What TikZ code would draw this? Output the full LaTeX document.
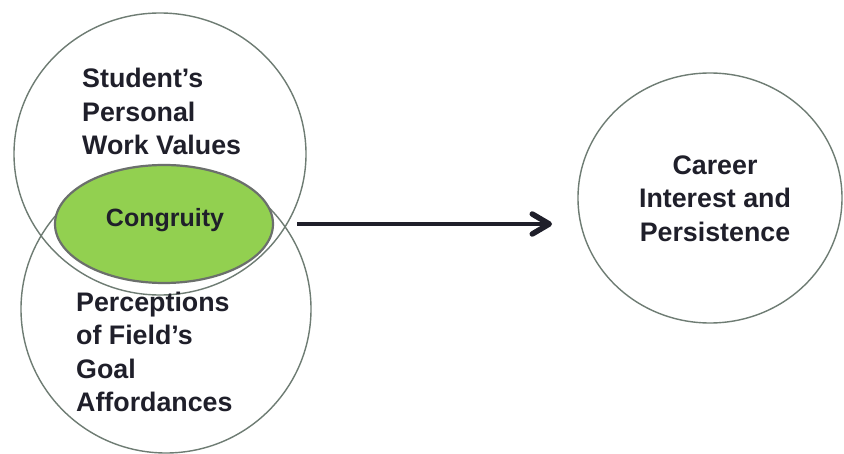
\documentclass[tikz,border=0pt]{standalone}
\usepackage{fontspec}
\setmainfont{Liberation Sans}
\usetikzlibrary{shapes.geometric,arrows.meta}
\definecolor{ringc}{HTML}{6E7C73}
\definecolor{lensfill}{HTML}{92D050}
\definecolor{lensline}{HTML}{6B6F6C}
\definecolor{inkc}{HTML}{1F1F2A}
\tikzset{
  ring/.style={ellipse, draw=ringc, line width=1.4pt, inner sep=0pt, outer sep=0pt},
  lens/.style={ellipse, draw=lensline, fill=lensfill, line width=2.2pt, inner sep=0pt, outer sep=0pt},
  label/.style={text=inkc, inner sep=0pt, font=\fontsize{26.8}{33.5}\selectfont\bfseries},
  arrowline/.style={draw=inkc, line width=4.5pt, -{Straight Barb[length=17pt,width=20pt,line width=5.5pt,round]}}
}
\begin{document}
\begin{tikzpicture}[x=1pt,y=-1pt]
\useasboundingbox (0,0) rectangle (844,454);
\fill[white] (0,0) rectangle (844,454);
% circles
\node[ring, minimum width=292pt, minimum height=282pt] (values) at (160,154) {};
\node[ring, minimum width=290pt, minimum height=288pt] (percep) at (166,309) {};
\node[ring, minimum width=264pt, minimum height=250pt] (career) at (710,198) {};
% congruity lens
\node[lens, minimum width=218pt, minimum height=118pt] (congr) at (164,224) {};
% texts
\node[label, anchor=north west, align=left] (valtext) at (82,68) {Student’s\\Personal\\Work Values};
\node[label, anchor=north west, align=left] (pertext) at (76,291.5) {Perceptions\\of Field’s\\Goal\\Affordances};
\node[label, font=\fontsize{25}{30}\selectfont\bfseries, anchor=base] (context) at (165,227) {Congruity};
\node[label, align=center] (cartext) at (715,198.5) {Career\\Interest and\\Persistence};
% arrow
\draw[arrowline, shorten <=24pt, shorten >=26pt] (congr.east) -- (congr.east -| career.west);
\end{tikzpicture}
\end{document}
